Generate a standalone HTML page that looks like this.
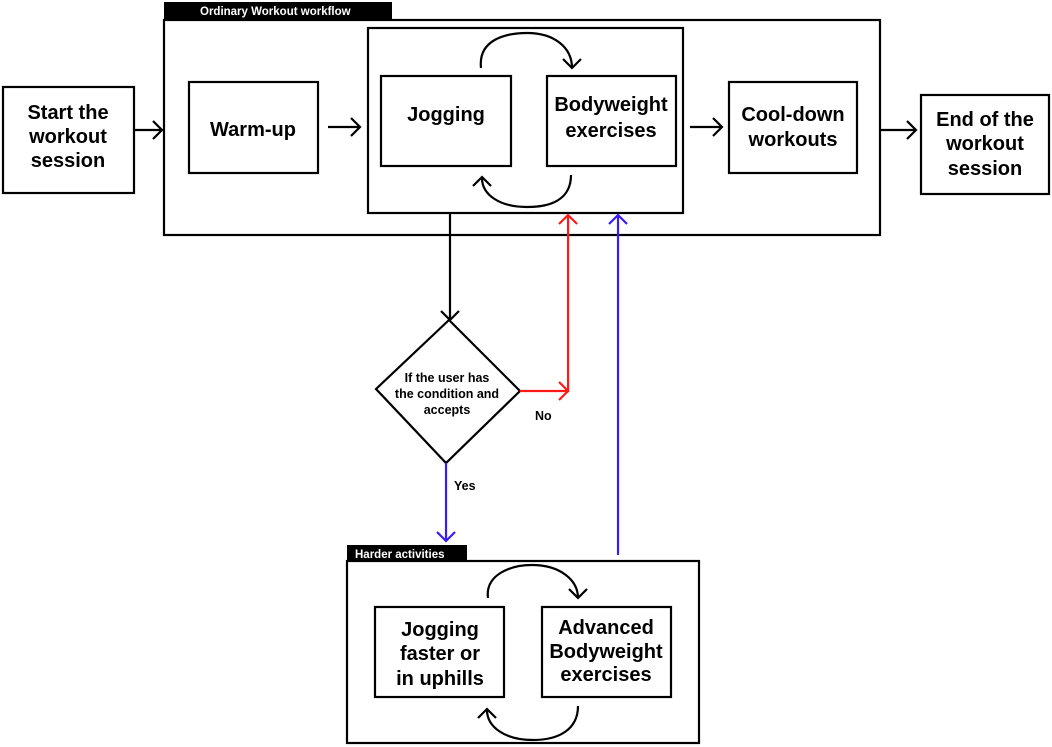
<!DOCTYPE html>
<html><head><meta charset="utf-8"><style>
html,body{margin:0;padding:0;background:#fff;}
svg{display:block;font-family:"Liberation Sans",sans-serif;font-weight:bold;}
</style></head><body>
<svg width="1052" height="747" viewBox="0 0 1052 747" xmlns="http://www.w3.org/2000/svg">
<g fill="none" stroke="#000" stroke-width="2.2">
<rect x="164" y="20" width="716" height="215"/>
<rect x="368" y="28" width="315" height="185"/>
<rect x="3" y="87" width="131" height="106"/>
<rect x="189" y="82" width="129" height="91"/>
<rect x="381" y="76" width="130" height="90"/>
<rect x="547" y="76" width="129" height="90"/>
<rect x="729" y="82" width="128" height="91"/>
<rect x="921" y="95" width="128" height="99"/>
<rect x="347" y="561" width="352" height="182"/>
<rect x="375" y="607" width="129" height="90"/>
<rect x="542" y="607" width="129" height="90"/>
<path d="M134 130H162 M153 121L162 130L153 139"/>
<path d="M328 127H360 M351 118L360 127L351 136"/>
<path d="M690 127H722 M713 118L722 127L713 136"/>
<path d="M880 130H916 M907 121L916 130L907 139"/>
<path d="M481 68 C478 40 505 33 527 33 C555 33 572 48 572 68"/>
<path d="M563 59L572 68L581 59"/>
<path d="M571 175 C571 200 550 207 527 207 C500 207 482 195 482 178"/>
<path d="M473 186L482 177L491 186"/>
<path d="M488 598 C485 575 510 565 532 565 C560 565 578 580 578 598"/>
<path d="M569 589L578 598L587 589"/>
<path d="M578 706 C578 730 558 740 533 740 C505 740 487 727 487 710"/>
<path d="M478 718L487 709L496 718"/>
<path d="M450 213V320 M441 311L450 320L459 311"/>
<path d="M449 320L520 391L446 463L376 389Z"/>
</g>
<path d="M520 391H568V215 M559 224L568 215L577 224 M559 382L568 391L559 400" fill="none" stroke="#ff1a1a" stroke-width="2.2"/>
<path d="M446 463V541 M437 532L446 541L455 532" fill="none" stroke="#3a1aff" stroke-width="2.2"/>
<path d="M618 555V215 M609 224L618 215L627 224" fill="none" stroke="#3a1aff" stroke-width="2.2"/>
<rect x="164" y="2" width="228" height="18" fill="#000"/>
<rect x="347" y="545" width="120" height="16" fill="#000"/>
<g fill="#fff" font-size="11.5"><text x="200" y="15">Ordinary Workout workflow</text><text x="355" y="558">Harder activities</text></g>
<g font-size="20" text-anchor="middle" fill="#000">
<text x="68" y="119">Start the</text><text x="68" y="143">workout</text><text x="68" y="167">session</text>
<text x="253" y="136">Warm-up</text>
<text x="446" y="121">Jogging</text>
<text x="611" y="111">Bodyweight</text><text x="611" y="137">exercises</text>
<text x="793" y="121">Cool-down</text><text x="793" y="146">workouts</text>
<text x="985" y="126">End of the</text><text x="985" y="150">workout</text><text x="985" y="175">session</text>
<text x="440" y="636">Jogging</text><text x="440" y="660">faster or</text><text x="440" y="685">in uphills</text>
<text x="606" y="634">Advanced</text><text x="606" y="658">Bodyweight</text><text x="606" y="681">exercises</text>
</g>
<g font-size="12.5" text-anchor="middle" fill="#000">
<text x="447" y="382">If the user has</text><text x="447" y="398">the condition and</text><text x="447" y="414">accepts</text>
</g>
<g font-size="12.5" fill="#000"><text x="535" y="420">No</text><text x="454" y="490">Yes</text></g>
</svg>
</body></html>
